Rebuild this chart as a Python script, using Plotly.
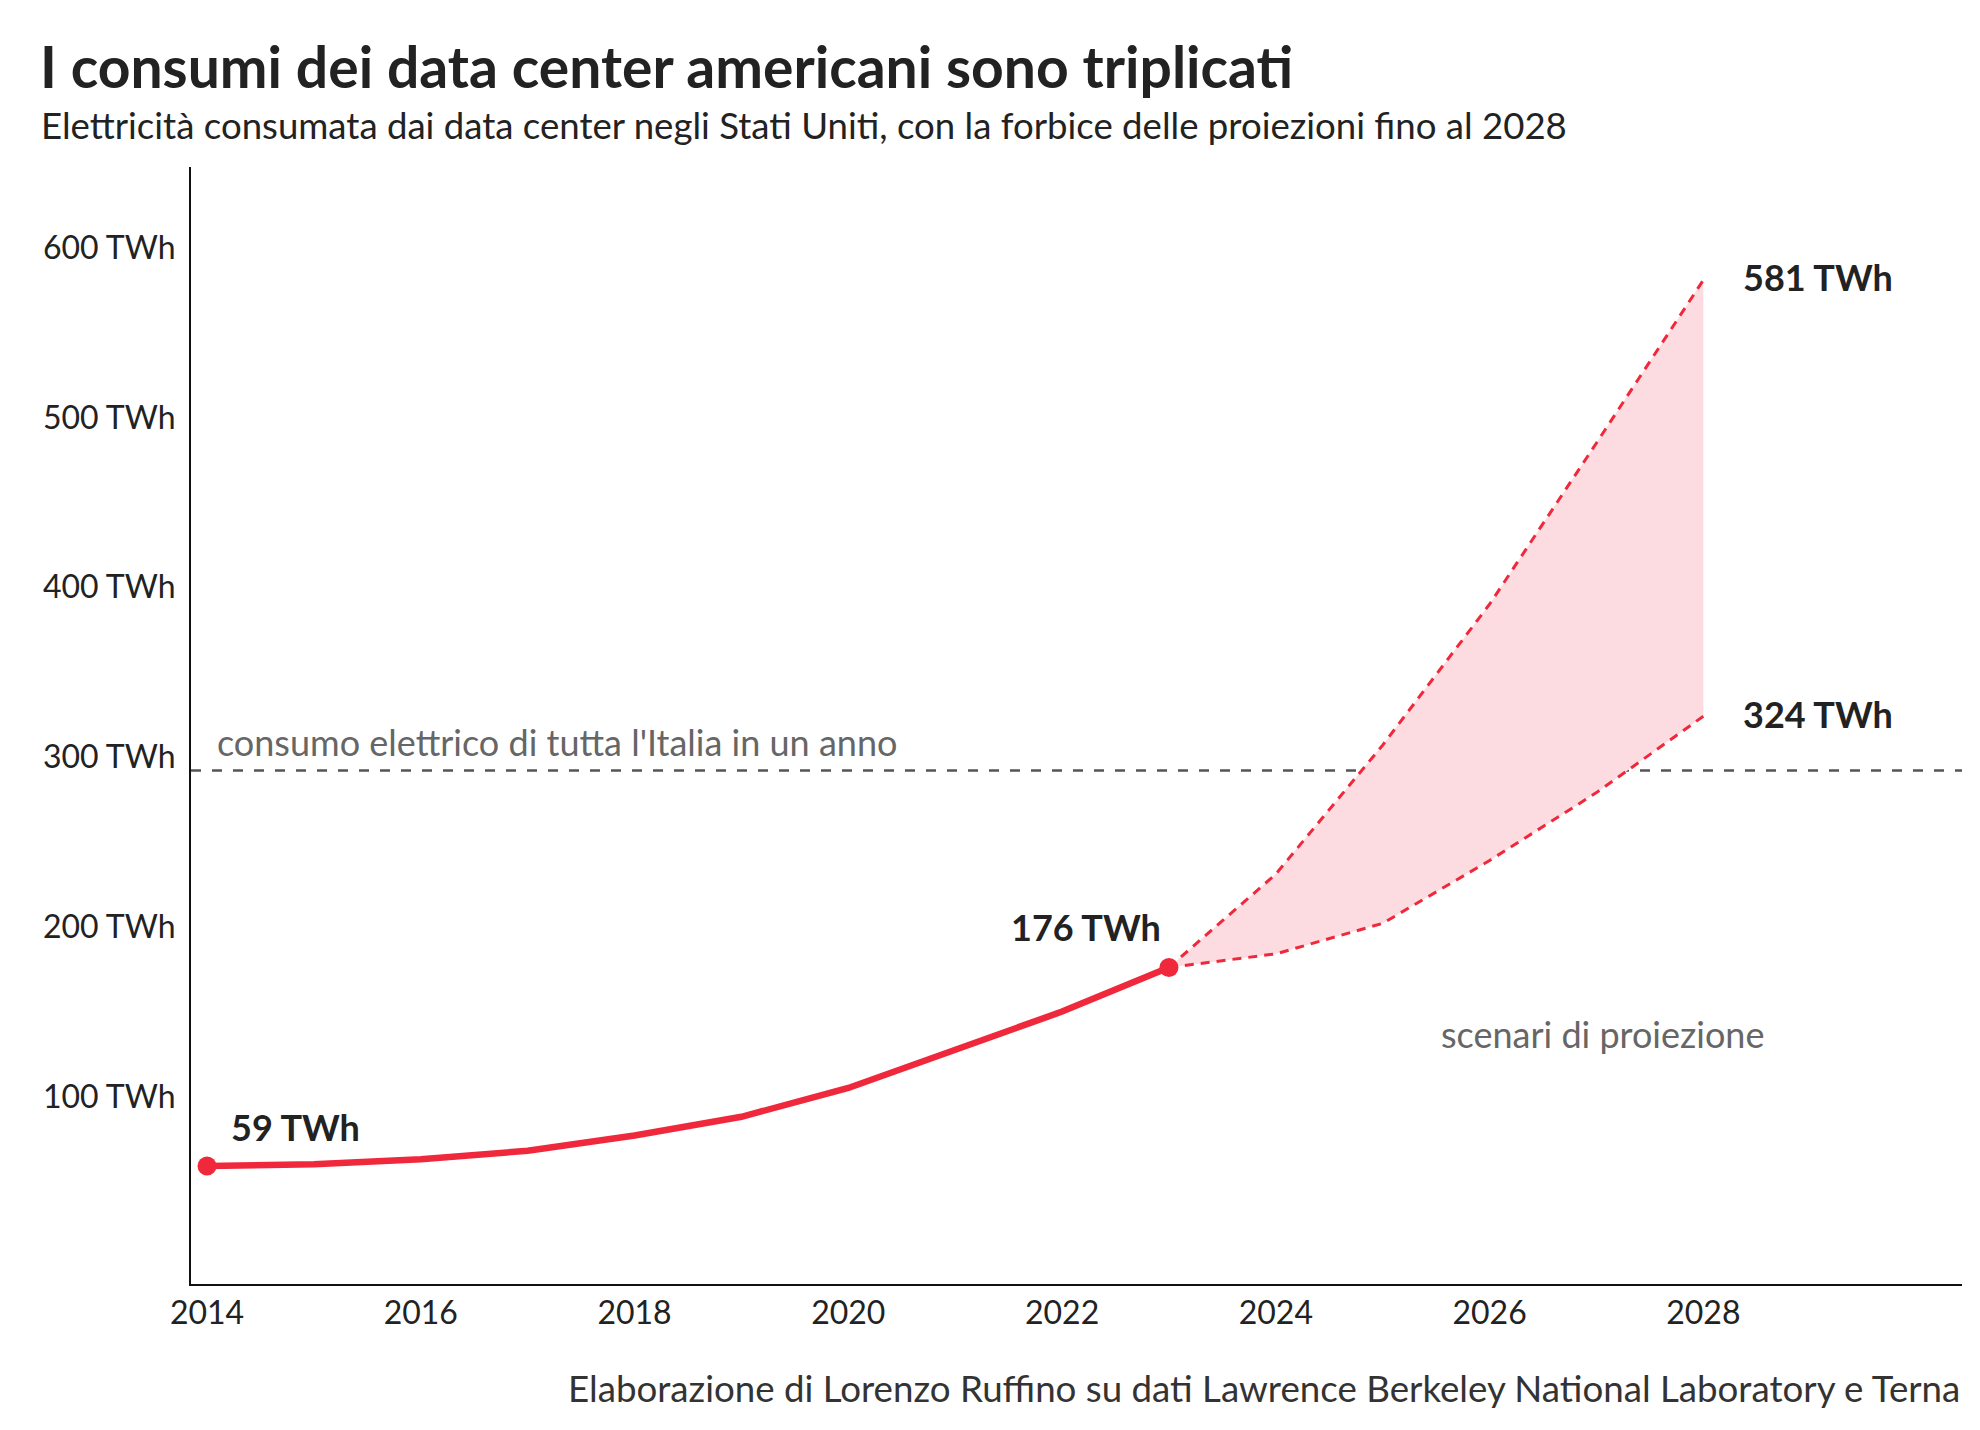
import plotly.graph_objects as go

# --- data (TWh) ---
years_hist = [2014, 2015, 2016, 2017, 2018, 2019, 2020, 2021, 2022, 2023]
consumo_hist = [59, 60, 63, 68, 77, 88, 105, 127, 150, 176]

years_proj = [2023, 2024, 2025, 2026, 2027, 2028]
proj_low = [176, 184, 202, 239, 279, 324]
proj_high = [176, 231, 307, 390, 485, 581]

italia_twh = 292

x_ticks = [2014, 2016, 2018, 2020, 2022, 2024, 2026, 2028]
y_ticks = [100, 200, 300, 400, 500, 600]
y_ticklabels = [f"{v} TWh" for v in y_ticks]

RED = "#F0283C"
FILL = "#FCDCE0"
INK = "#222222"
GREY = "#666666"
FONT = "Lato, 'Open Sans', sans-serif"

W, H = 1980, 1430
M = dict(l=183, r=26, t=159, b=154)


def px_x(px):
    return (px - M["l"]) / (W - M["l"] - M["r"])


def px_y(py):
    return (H - M["b"] - py) / (H - M["t"] - M["b"])


fig = go.Figure()

# band between the two projection scenarios
fig.add_trace(go.Scatter(
    x=years_proj, y=proj_low, mode="lines",
    line=dict(color=RED, width=3, dash="9px,7px"),
    hoverinfo="skip", showlegend=False,
))
fig.add_trace(go.Scatter(
    x=years_proj, y=proj_high, mode="lines",
    line=dict(color=RED, width=3, dash="9px,7px"),
    fill="tonexty", fillcolor=FILL,
    hoverinfo="skip", showlegend=False,
))

fig.add_trace(go.Scatter(
    x=years_hist, y=consumo_hist, mode="lines",
    line=dict(color=RED, width=6.5),
    hoverinfo="skip", showlegend=False,
))
fig.add_trace(go.Scatter(
    x=[years_hist[0], years_hist[-1]], y=[consumo_hist[0], consumo_hist[-1]],
    mode="markers", marker=dict(color=RED, size=19),
    hoverinfo="skip", showlegend=False,
))

fig.add_shape(
    type="line", xref="paper", yref="y", x0=0, x1=1, y0=italia_twh, y1=italia_twh,
    line=dict(color="#555555", width=2.5, dash="10px,11px"), layer="below",
)

bold = dict(family=FONT, size=36, color=INK, weight="bold")
grey = dict(family=FONT, size=36, color=GREY)
annotations = [
    dict(x=years_hist[0], y=consumo_hist[0], text=f"{consumo_hist[0]} TWh",
         xanchor="left", yanchor="middle", xshift=22, yshift=39, font=bold),
    dict(x=years_hist[-1], y=consumo_hist[-1], text=f"{consumo_hist[-1]} TWh",
         xanchor="right", yanchor="middle", xshift=-6, yshift=40, font=bold),
    dict(x=years_proj[-1], y=proj_high[-1], text=f"{proj_high[-1]} TWh",
         xanchor="left", yanchor="middle", xshift=38, yshift=3, font=bold),
    dict(x=years_proj[-1], y=proj_low[-1], text=f"{proj_low[-1]} TWh",
         xanchor="left", yanchor="middle", xshift=38, yshift=2, font=bold),
    dict(x=2014.07, y=italia_twh, text="consumo elettrico di tutta l'Italia in un anno",
         xanchor="left", yanchor="middle", yshift=29, font=grey),
    dict(x=2025.53, y=137, text="scenari di proiezione",
         xanchor="left", yanchor="middle", font=grey),
    dict(xref="paper", yref="paper", x=px_x(31), y=px_y(117),
         text="Elettricità consumata dai data center negli Stati Uniti, con la forbice delle proiezioni fino al 2028",
         xanchor="left", yanchor="middle", showarrow=False,
         font=dict(family=FONT, size=36.6, color=INK)),
    dict(xref="paper", yref="paper", x=1, y=px_y(1380),
         text="Elaborazione di Lorenzo Ruffino su dati Lawrence Berkeley National Laboratory e Terna",
         xanchor="right", yanchor="middle", showarrow=False,
         font=dict(family=FONT, size=36.7, color="#333333")),
]
for a in annotations:
    a.setdefault("showarrow", False)

fig.update_layout(
    width=W, height=H,
    margin=M,
    paper_bgcolor="white", plot_bgcolor="white",
    font=dict(family=FONT, color=INK),
    title=dict(
        text="<b>I consumi dei data center americani sono triplicati</b>",
        xref="container", yref="container", x=32 / W, y=1 - 60 / H,
        xanchor="left", yanchor="middle",
        font=dict(family=FONT, size=57, color=INK),
    ),
    xaxis=dict(
        range=[2013.85, 2030.42],
        tickvals=x_ticks,
        showgrid=False, zeroline=False,
        showline=True, linecolor="#111111", linewidth=2,
        ticks="", ticklabelstandoff=0,
        tickfont=dict(family=FONT, size=32, color=INK),
    ),
    yaxis=dict(
        range=[-10.5, 647.6],
        tickvals=y_ticks, ticktext=y_ticklabels,
        showgrid=False, zeroline=False,
        showline=True, linecolor="#111111", linewidth=2,
        ticks="", ticklabelstandoff=7,
        tickfont=dict(family=FONT, size=32, color=INK),
    ),
    annotations=annotations,
    showlegend=False,
)

fig.write_html("out.html")
